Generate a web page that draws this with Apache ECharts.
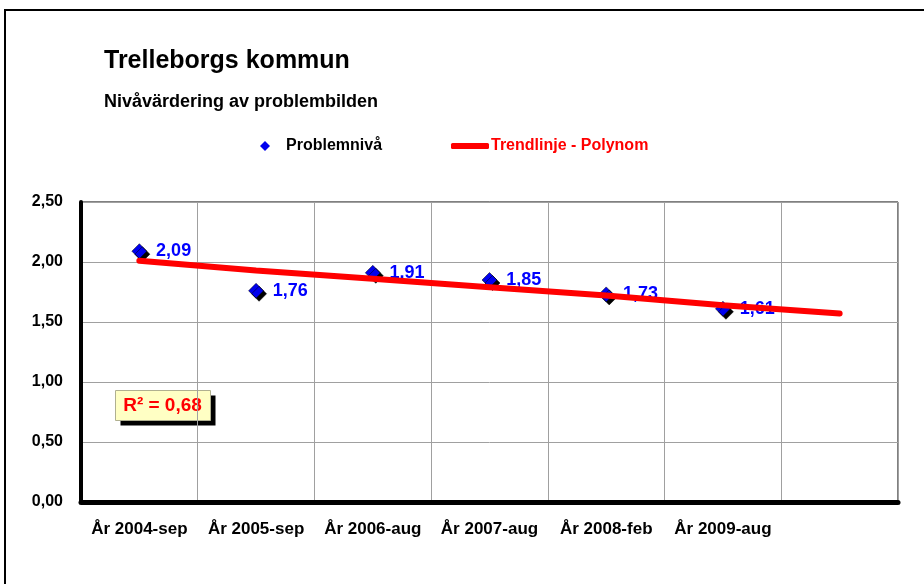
<!DOCTYPE html>
<html>
<head>
<meta charset="utf-8">
<title>Trelleborgs kommun</title>
<script src="https://cdn.jsdelivr.net/npm/echarts@6/dist/echarts.min.js"></script>
<style>
  html, body { margin: 0; padding: 0; background: #fff; }
  #chart { width: 924px; height: 584px; }
</style>
</head>
<body>
<div id="chart"></div>
<script>
// kategorier (sista platsen är tom, trendlinjen förlängs dit)
const categories = ["År 2004-sep", "År 2005-sep", "År 2006-aug", "År 2007-aug", "År 2008-feb", "År 2009-aug", ""];
const problemLevel = [2.09, 1.76, 1.91, 1.85, 1.73, 1.61];
const trendValues = [2.01, 1.93, 1.86, 1.79, 1.72, 1.64, 1.57];
const yTicks = { min: 0, max: 2.5, interval: 0.5 };
const rSquared = "R² = 0,68";

const font = '"Liberation Sans", Arial, sans-serif';
const comma = (v) => Number(v).toFixed(2).replace(".", ",");

const option = {
  animation: false,
  backgroundColor: "#fff",
  textStyle: { fontFamily: font },
  title: [
    {
      text: "Trelleborgs kommun",
      left: 104, top: 49, padding: 0,
      textStyle: { fontFamily: font, fontSize: 25, fontWeight: "bold", color: "#000" }
    },
    {
      text: "Nivåvärdering av problembilden",
      left: 104, top: 93, padding: 0,
      textStyle: { fontFamily: font, fontSize: 18, fontWeight: "bold", color: "#000" }
    }
  ],
  legend: [
    {
      data: [{ name: "Problemnivå", icon: "diamond" }],
      left: 260, top: 138, padding: 0,
      itemWidth: 10, itemHeight: 10,
      itemStyle: { shadowColor: "transparent", shadowOffsetX: 0, shadowOffsetY: 0, borderWidth: 0 },
      textStyle: { fontFamily: font, fontSize: 16, fontWeight: "bold", color: "#000", padding: [0, 0, 0, 11] }
    },
    {
      data: [{ name: "Trendlinje - Polynom", icon: "roundRect" }],
      left: 451, top: 138, padding: 0,
      itemWidth: 38, itemHeight: 6,
      textStyle: { fontFamily: font, fontSize: 16, fontWeight: "bold", color: "#ff0000", padding: [0, 0, 0, -3] }
    }
  ],
  grid: {
    left: 81, right: 26, top: 202, bottom: 82,
    show: true, borderColor: "#000", borderWidth: 1
  },
  xAxis: {
    type: "category",
    data: categories,
    boundaryGap: true,
    axisLine: { lineStyle: { color: "#000", width: 5 } },
    axisTick: { show: false },
    axisLabel: { interval: 0, margin: 19, fontFamily: font, fontSize: 17, fontWeight: "bold", color: "#000" },
    splitLine: { show: true, interval: 0, lineStyle: { color: "#a0a0a0", width: 1 } }
  },
  yAxis: {
    type: "value",
    min: yTicks.min, max: yTicks.max, interval: yTicks.interval,
    axisLine: { show: true, lineStyle: { color: "#000", width: 4 } },
    axisTick: { show: false },
    axisLabel: { margin: 18, fontFamily: font, fontSize: 16, fontWeight: "bold", color: "#000", formatter: comma },
    splitLine: { show: true, lineStyle: { color: "#a0a0a0", width: 1 } }
  },
  series: [
    {
      name: "Problemnivå",
      type: "scatter",
      z: 2,
      symbol: "diamond",
      symbolSize: 15,
      data: problemLevel,
      itemStyle: {
        color: "#0000ee", opacity: 1, borderColor: "#000", borderWidth: 0.5,
        shadowColor: "#000", shadowBlur: 0, shadowOffsetX: 3, shadowOffsetY: 3
      },
      label: {
        show: true, position: "right", distance: 9,
        fontFamily: font, fontSize: 18, fontWeight: "bold", color: "#0000ff",
        formatter: (p) => comma(p.value)
      }
    },
    {
      name: "Trendlinje - Polynom",
      type: "line",
      z: 5,
      color: "#ff0000",
      data: trendValues,
      showSymbol: false,
      symbol: "none",
      lineStyle: { color: "#ff0000", width: 6, cap: "round" }
    }
  ],
  graphic: [
    {
      type: "rect", silent: true,
      shape: { x: 5, y: 10, width: 1000, height: 1000 },
      style: { fill: "none", stroke: "#000", lineWidth: 2 }
    },
    {
      type: "group", left: 115, top: 390, z: 10,
      children: [
        { type: "rect", shape: { x: 5, y: 5, width: 95, height: 30 }, style: { fill: "#000" } },
        { type: "rect", shape: { x: 0, y: 0, width: 95, height: 30 }, style: { fill: "#ffffc4", stroke: "#b0b090", lineWidth: 1 } },
        {
          type: "text", x: 47, y: 15,
          style: {
            text: rSquared, fill: "#ff0000", align: "center", verticalAlign: "middle",
            font: 'bold 19px "Liberation Sans", Arial, sans-serif'
          }
        }
      ]
    }
  ]
};

const myChart = echarts.init(document.getElementById("chart"));
myChart.setOption(option);
window.addEventListener("resize", () => {
  myChart.resize();
});
</script>
</body>
</html>
